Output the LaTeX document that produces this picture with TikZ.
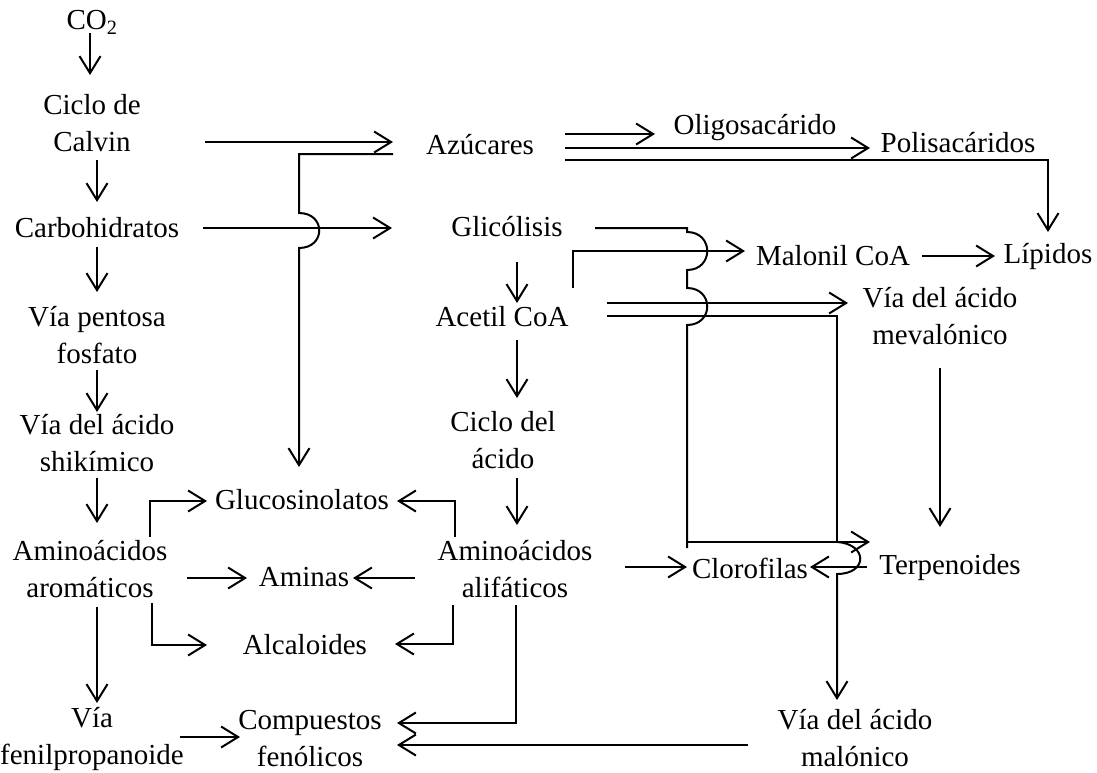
\documentclass[tikz,border=0pt]{standalone}
\usepackage{fontspec}
\setmainfont{Liberation Serif}
\usetikzlibrary{arrows.meta}
\begin{document}
\begin{tikzpicture}[x=1pt,y=-1pt,line width=2pt,line join=miter,
  arr/.style={-{Straight Barb[length=17pt,width=21pt]}},
  lbl/.style={inner sep=0pt,align=center,font=\fontsize{29}{37}\selectfont}]
\useasboundingbox (0,0) rectangle (1097,772);
% nodes
\node[lbl] (co2) at (92,22) {CO\textsubscript{2}};
\node[lbl] (calvin) at (92,123) {Ciclo de\\Calvin};
\node[lbl] (carbo) at (97,228) {Carbohidratos};
\node[lbl] (pentosa) at (97,335) {Vía pentosa\\fosfato};
\node[lbl] (shik) at (97,443) {Vía del ácido\\shikímico};
\node[lbl] (aroma) at (90,569) {Aminoácidos\\aromáticos};
\node[lbl] (fenil) at (92,739) {Vía\\fenilpropanoide};
\node[lbl] (gluco) at (302,500) {Glucosinolatos};
\node[lbl] (aminas) at (304,577) {Aminas};
\node[lbl] (alca) at (305,645) {Alcaloides};
\node[lbl] (compu) at (310,739) {Compuestos\\fenólicos};
\node[lbl] (azu) at (480,145) {Azúcares};
\node[lbl] (gli) at (507,227) {Glicólisis};
\node[lbl] (acetil) at (502,317) {Acetil CoA};
\node[lbl] (krebs) at (503,440) {Ciclo del\\ácido};
\node[lbl] (alif) at (515,569) {Aminoácidos\\alifáticos};
\node[lbl] (oligo) at (755,128) {Oligosacárido};
\node[lbl] (poli) at (958,143) {Polisacáridos};
\node[lbl] (malonil) at (833,256) {Malonil CoA};
\node[lbl] (lipidos) at (1048,256) {Lípidos};
\node[lbl] (meva) at (940,316) {Vía del ácido\\mevalónico};
\node[lbl] (cloro) at (750,568) {Clorofilas};
\node[lbl] (terp) at (950,568) {Terpenoides};
\node[lbl] (malo) at (855,738) {Vía del ácido\\malónico};
% left column
\draw[arr] (90,33) -- (90,75);
\draw[arr] (97,160) -- (97,202);
\draw[arr] (97,247) -- (97,292);
\draw[arr] (97,370) -- (97,412);
\draw[arr] (97,478) -- (97,523);
\draw[arr] (97,607) -- (97,703);
\draw[arr] (180,737) -- (240,737);
\draw[arr] (150,537) -- (150,501) -- (207,501);
\draw[arr] (187,578) -- (247,578);
\draw[arr] (152,603) -- (152,645) -- (207,645);
\draw[arr] (455,537) -- (455,501) -- (397,501);
\draw[arr] (415,578) -- (353,578);
\draw[arr] (453,605) -- (453,644) -- (395,644);
\draw[arr] (516,605) -- (516,723) -- (397,723);
\draw[arr] (748,745) -- (397,745);
\draw[arr] (205,142) -- (393,142);
\draw[arr] (393,154) -- (299,154) -- (299,213) .. controls (326,213) and (326,248) .. (299,248) -- (299,467);
\draw[arr] (203,228) -- (392,228);
% top right
\draw[arr] (565,134) -- (655,134);
\draw[arr] (565,148) -- (870,148);
\draw[arr] (565,160) -- (1048,160) -- (1048,232);
\draw[arr] (517,262) -- (517,303);
\draw[arr] (517,340) -- (517,398);
\draw[arr] (517,478) -- (517,525);
\draw (595,228) -- (687,228) -- (687,232) .. controls (714,232) and (714,270) .. (687,270) -- (687,288) .. controls (714,288) and (714,325) .. (687,325) -- (687,548);
\draw[arr] (573,288) -- (573,251) -- (745,251);
\draw[arr] (922,256) -- (995,256);
\draw[arr] (607,303) -- (848,303);
\draw (607,316) -- (837,316) -- (837,542);
\draw[arr] (687,542) -- (870,542);
\draw[arr] (837,542) .. controls (868,544) and (868,574) .. (837,574) -- (837,700);
\draw[arr] (940,368) -- (940,527);
\draw[arr] (625,567) -- (687,567);
\draw[arr] (867,567) -- (810,567);
\end{tikzpicture}
\end{document}
